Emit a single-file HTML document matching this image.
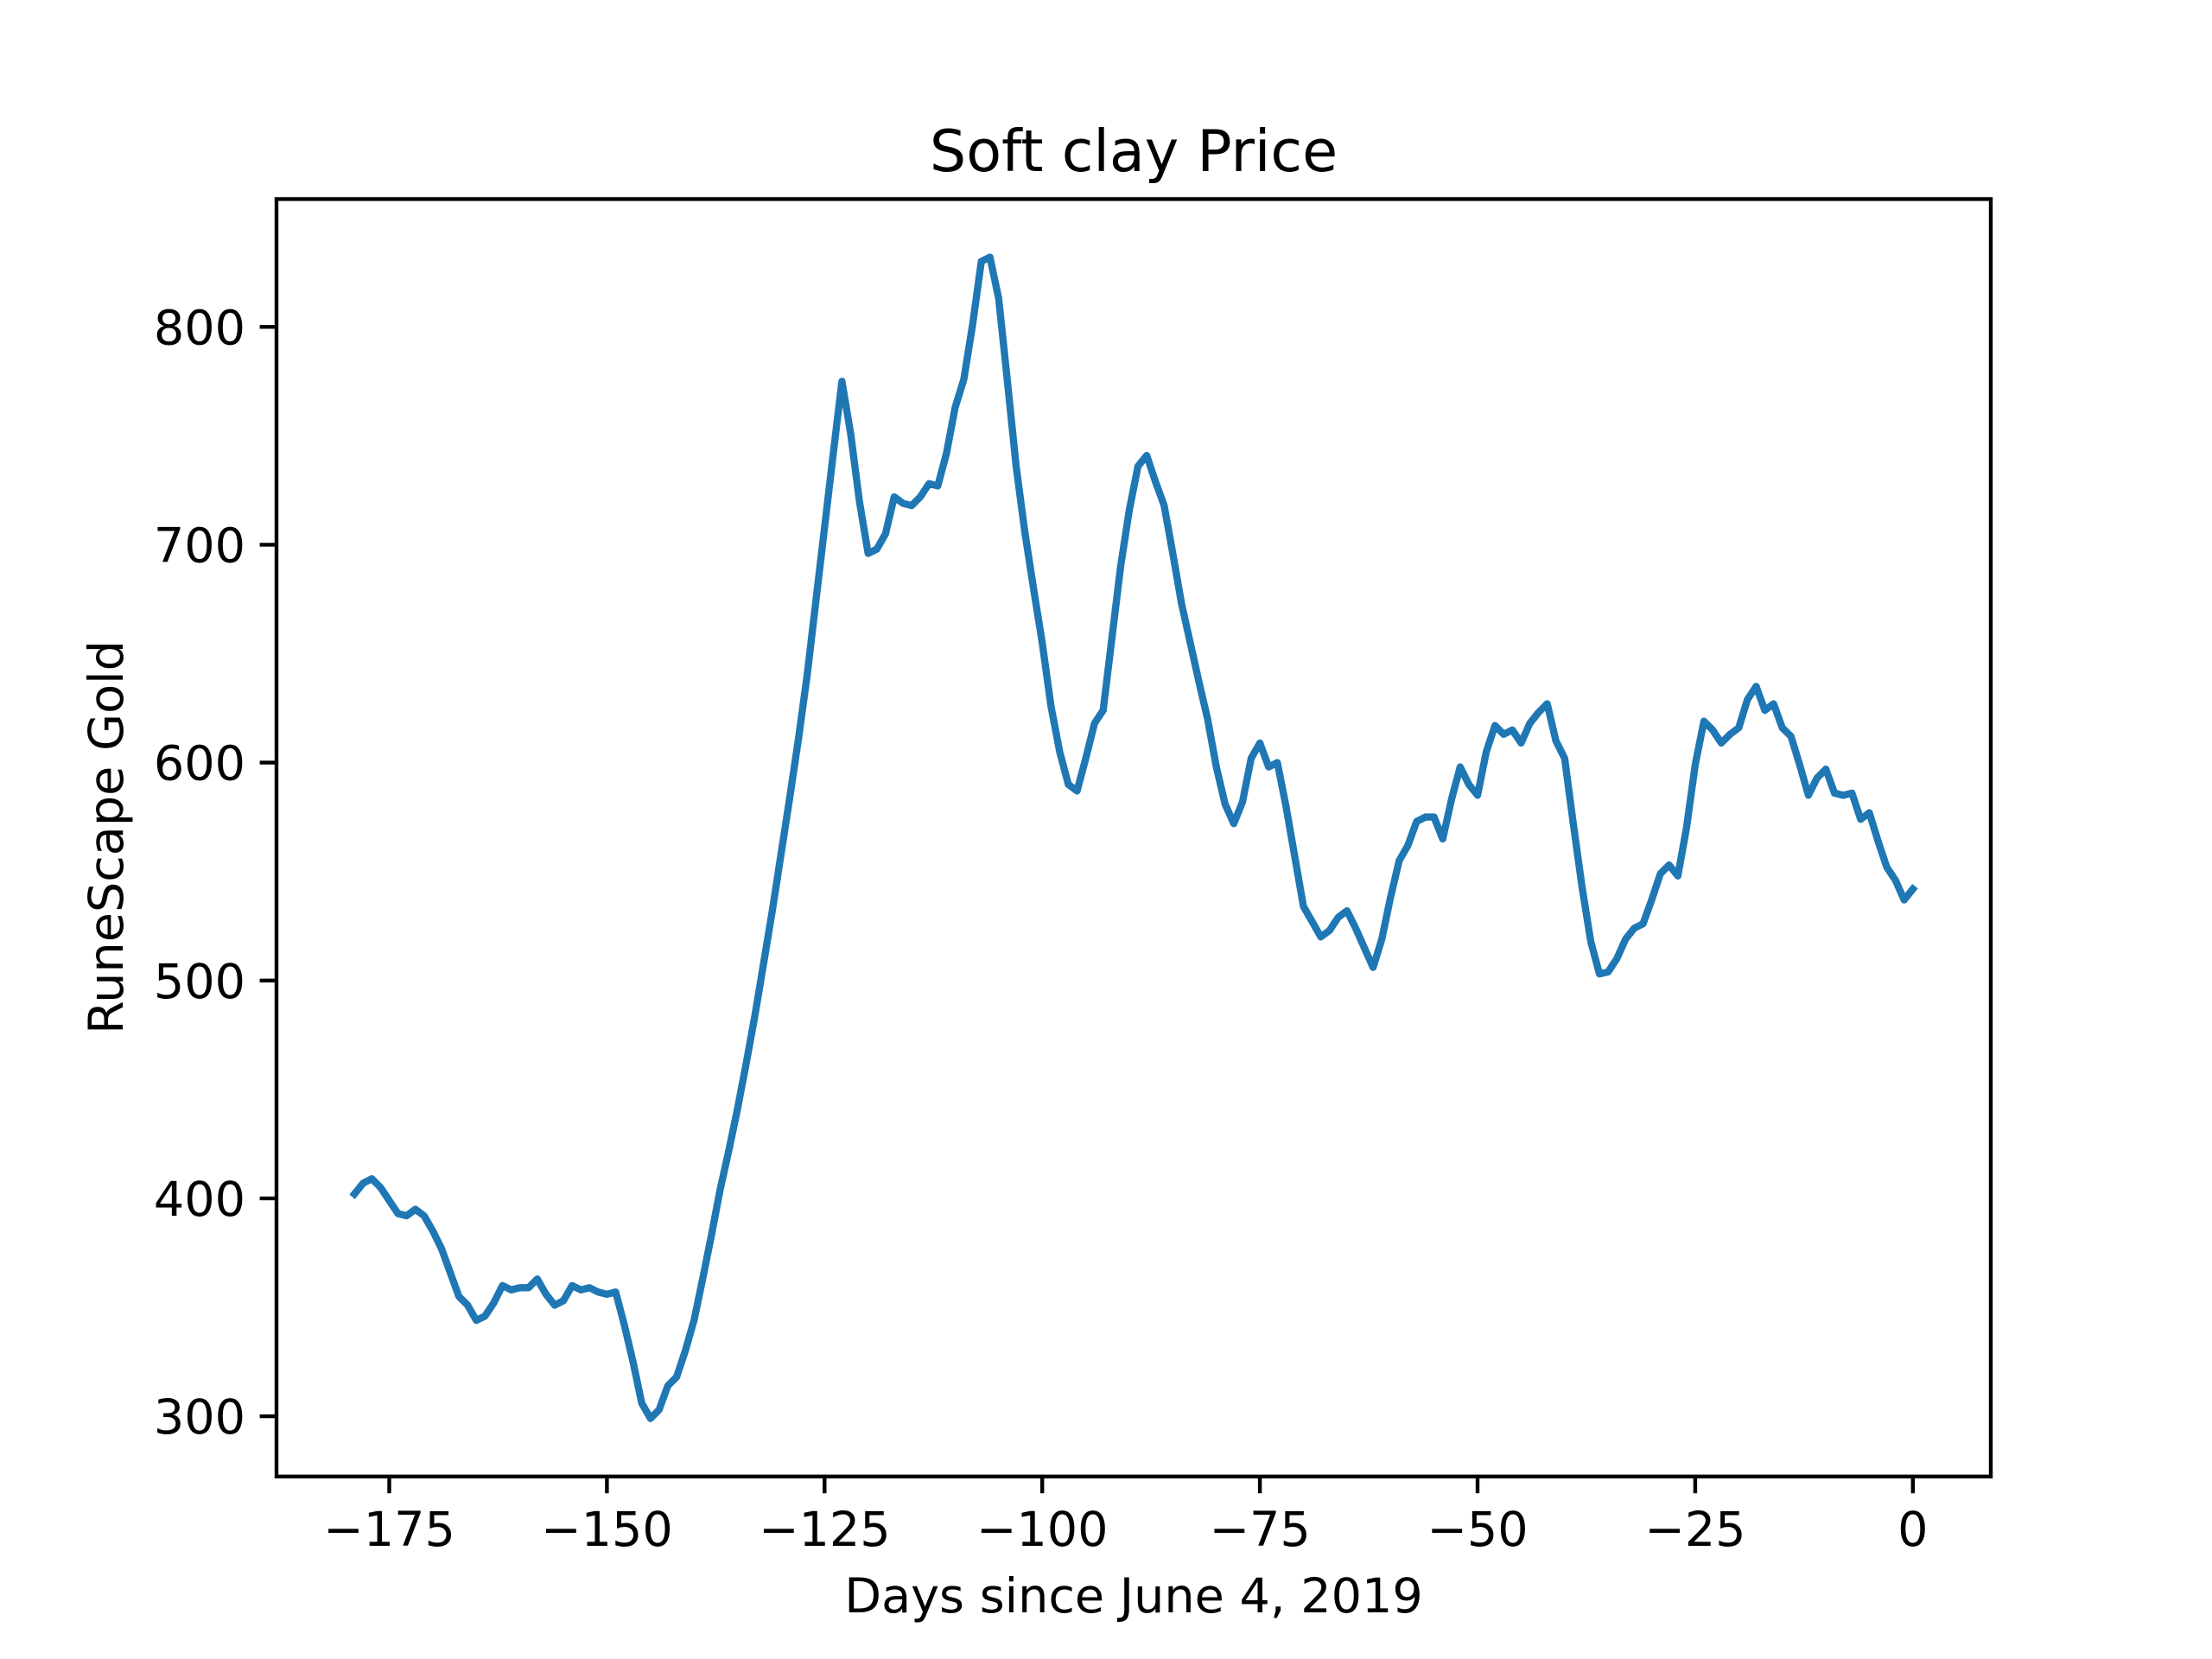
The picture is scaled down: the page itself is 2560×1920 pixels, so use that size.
<!DOCTYPE html>
<html><head><meta charset="utf-8"><style>html,body{margin:0;padding:0;background:#fff}svg{display:block}text{font-family:"DejaVu Sans","Liberation Sans",sans-serif;fill:#000}</style></head>
<body>
<svg id="chart" width="2560" height="1920" viewBox="0 0 2560 1920" xmlns="http://www.w3.org/2000/svg">
<rect width="2560" height="1920" fill="#fff"/>
<text x="1312" y="198" font-size="66.7" text-anchor="middle">Soft clay Price</text>
<path id="line" fill="none" stroke="#1f77b4" stroke-width="8.33" stroke-linejoin="round" stroke-linecap="square"/>
<rect x="320" y="230.4" width="1984" height="1478.4" fill="none" stroke="#000" stroke-width="4.4"/>
<g id="xticks"></g>
<g id="yticks"></g>
<text x="1312" y="1866" font-size="55.6" text-anchor="middle">Days since June 4, 2019</text>
<text transform="translate(142,969) rotate(-90)" font-size="55.6" text-anchor="middle">RuneScape Gold</text>
</svg>
<script>
const prices = [402,407,409,405,399,393,392,395,392,385,377,
366,355,351,344,346,352,360,358,359,359,363,356,351,353,360,358,359,357,356,357,
342,325,306,299,303,314,318,330,344,363,383,404,422,441,462,484,508,532,558,584,611,640,674,708,742,775,
751,720,696,698,705,722,719,718,722,728,727,742,763,776,801,830,832,813,775,736,706,680,655,626,605,590,587,
602,618,624,657,690,716,736,741,729,718,696,673,655,637,620,598,581,572,582,602,609,598,600,580,557,534,
527,520,523,529,532,524,515,506,519,538,555,562,573,575,575,565,583,598,590,585,605,617,613,615,609,618,623,627,
610,602,572,543,518,503,504,510,519,524,526,537,549,553,548,570,599,619,615,609,613,616,629,635,624,627,616,612,
599,585,593,597,586,585,586,574,577,564,552,546,537,542];
const days = prices.map((p, i) => i - (prices.length - 1));
const xTicks = [-175, -150, -125, -100, -75, -50, -25, 0];
const yTicks = [300, 400, 500, 600, 700, 800];

const L = 320, R = 2304, T = 230.4, B = 1708.8;
const dmin = Math.min(...days), dmax = Math.max(...days);
const pmin = Math.min(...prices), pmax = Math.max(...prices);
const xlo = dmin - 0.05 * (dmax - dmin), xhi = dmax + 0.05 * (dmax - dmin);
const ylo = pmin - 0.05 * (pmax - pmin), yhi = pmax + 0.05 * (pmax - pmin);
const xs = d => L + (d - xlo) / (xhi - xlo) * (R - L);
const ys = v => B - (v - ylo) / (yhi - ylo) * (B - T);
const NS = 'http://www.w3.org/2000/svg';

document.getElementById('line').setAttribute('d', days.map((d, i) => (i ? 'L' : 'M') + xs(d).toFixed(1) + ' ' + ys(prices[i]).toFixed(1)).join(' '));

const xg = document.getElementById('xticks');
xTicks.forEach(t => {
  const x = xs(t);
  const ln = document.createElementNS(NS, 'line');
  
  
  ln.setAttribute('x1', x); ln.setAttribute('x2', x);
  ln.setAttribute('y1', B); ln.setAttribute('y2', B + 19.4);
  ln.setAttribute('stroke', '#000'); ln.setAttribute('stroke-width', '4.4');
  xg.appendChild(ln);
  const tx = document.createElementNS(NS, 'text');
  
  
  tx.setAttribute('x', x); tx.setAttribute('y', B + 80);
  tx.setAttribute('font-size', '55.6'); tx.setAttribute('text-anchor', 'middle');
  tx.textContent = t < 0 ? '\u2212' + Math.abs(t) : String(t);
  xg.appendChild(tx);
});
const yg = document.getElementById('yticks');
yTicks.forEach(t => {
  const y = ys(t);
  const ln = document.createElementNS(NS, 'line');
  
  
  ln.setAttribute('x1', L - 19.4); ln.setAttribute('x2', L);
  ln.setAttribute('y1', y); ln.setAttribute('y2', y);
  ln.setAttribute('stroke', '#000'); ln.setAttribute('stroke-width', '4.4');
  yg.appendChild(ln);
  const tx = document.createElementNS(NS, 'text');
  
  
  tx.setAttribute('x', L - 36); tx.setAttribute('y', y + 20);
  tx.setAttribute('font-size', '55.6'); tx.setAttribute('text-anchor', 'end');
  tx.textContent = String(t);
  yg.appendChild(tx);
});
</script>
</body></html>
